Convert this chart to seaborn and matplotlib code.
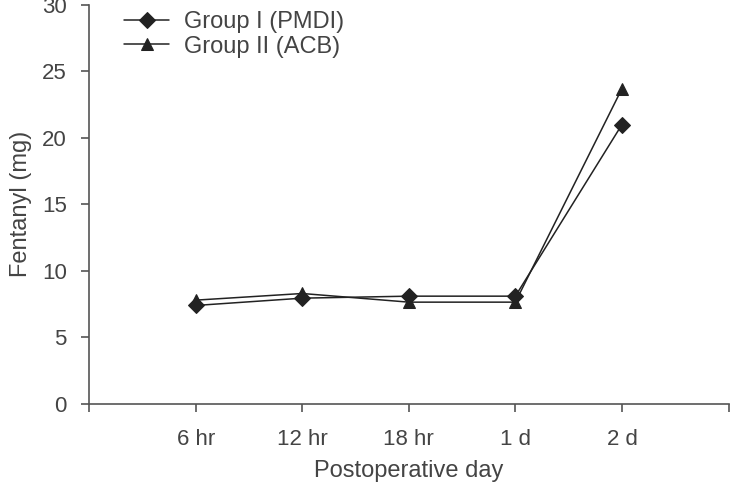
import pandas as pd
import matplotlib.pyplot as plt
import seaborn as sns

days = ['6 hr', '12 hr', '18 hr', '1 d', '2 d']
group1 = [7.4, 7.95, 8.1, 8.1, 21.0]
group2 = [7.8, 8.3, 7.65, 7.65, 23.7]
groups = ['Group I (PMDI)', 'Group II (ACB)']

df = pd.DataFrame({
    'pos': list(range(1, len(days) + 1)) * 2,
    'fentanyl': group1 + group2,
    'group': [groups[0]] * len(days) + [groups[1]] * len(days),
})

sns.set_style('ticks')
plt.rcParams['font.family'] = ['Liberation Sans', 'DejaVu Sans']
txt = '#444444'
fs = 17

fig = plt.figure(figsize=(7.3, 4.82), dpi=100)
ax = fig.add_axes([0.122, 0.162, 0.876, 0.828])

sns.lineplot(data=df, x='pos', y='fentanyl', style='group', markers={groups[0]: 'D', groups[1]: '^'},
             dashes=False, color='#222222', linewidth=1.1, markersize=8, markeredgecolor='#222222', ax=ax)

ax.set_xlim(0, 6)
ax.set_ylim(0, 30)
ax.set_xticks(range(0, 7))
ax.set_xticklabels([''] + days + [''])
ax.set_yticks(range(0, 31, 5))
ax.tick_params(axis='both', colors='#555555', labelcolor=txt, labelsize=16, length=6, width=1.2)
ax.tick_params(axis='x', pad=12)
ax.tick_params(axis='y', pad=10)
for s in ['top', 'right']:
    ax.spines[s].set_visible(False)
for s in ['left', 'bottom']:
    ax.spines[s].set_color('#555555')
    ax.spines[s].set_linewidth(1.2)

ax.set_xlabel('Postoperative day', fontsize=fs, color=txt, labelpad=7)
ax.set_ylabel('Fentanyl (mg)', fontsize=fs, color=txt, labelpad=7)

leg = ax.legend(loc='upper left', bbox_to_anchor=(0.029, 1.025), frameon=False, fontsize=fs,
                handlelength=1.9, handletextpad=0.65, labelspacing=0.1, borderpad=0.2)
for t in leg.get_texts():
    t.set_color(txt)

fig.savefig('out.png', dpi=100)
